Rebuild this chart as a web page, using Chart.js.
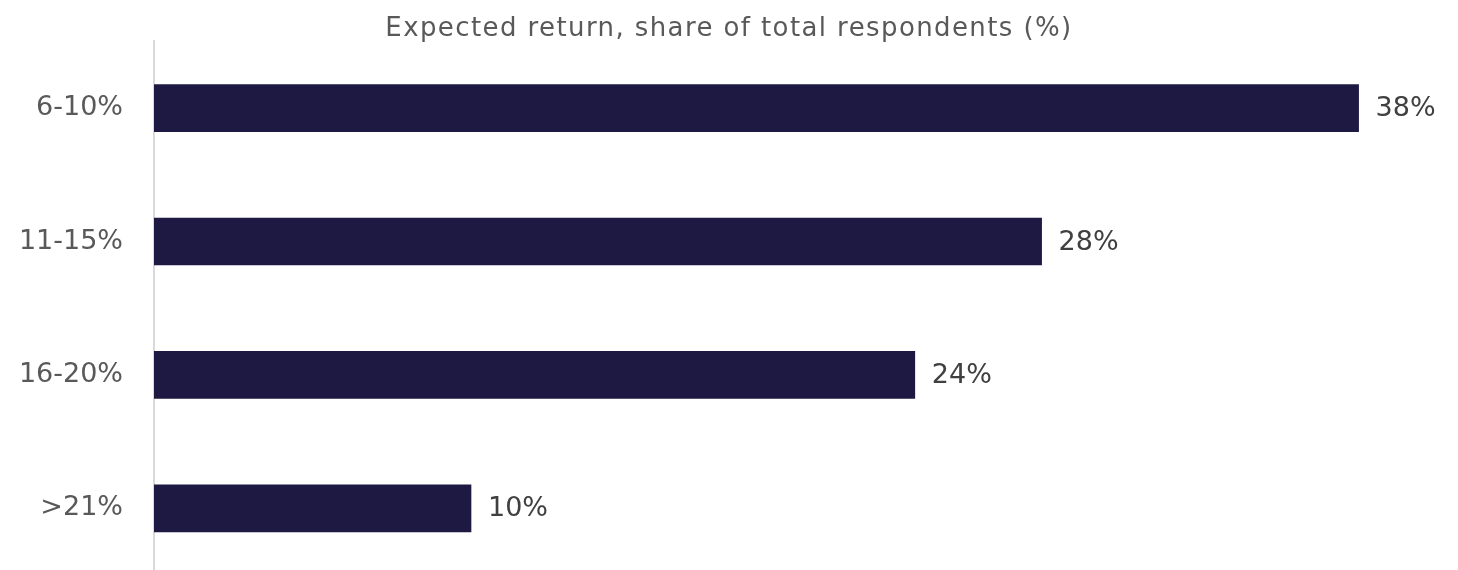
<!DOCTYPE html>
<html>
<head>
<meta charset="utf-8">
<script src="https://cdn.jsdelivr.net/npm/chart.js@4/dist/chart.umd.min.js"></script>
<style>
  html, body { margin: 0; padding: 0; background: #ffffff; overflow: hidden; }
  #wrap { width: 1458px; height: 575px; position: relative; }
</style>
</head>
<body>
<div id="wrap"><canvas id="c" width="1458" height="575"></canvas></div>
<script>
const titleText = "Expected return, share of total respondents (%)";
const categories = ["6-10%", "11-15%", "16-20%", ">21%"];
const shares = [38, 28, 24, 10];
const valueLabels = ["38%", "28%", "24%", "10%"];

const FONT = "'DejaVu Sans', sans-serif";

const valueLabelPlugin = {
  id: 'valueLabels',
  afterDatasetsDraw(chart) {
    const ctx = chart.ctx;
    const meta = chart.getDatasetMeta(0);
    ctx.save();
    ctx.font = "27px " + FONT;
    ctx.fillStyle = "#404040";
    ctx.textAlign = "left";
    ctx.textBaseline = "middle";
    meta.data.forEach((bar, i) => {
      ctx.fillText(valueLabels[i], bar.x + 17, bar.y + 1);
    });
    ctx.restore();
  }
};

const spacedTitlePlugin = {
  id: 'spacedTitle',
  afterDraw(chart) {
    const ctx = chart.ctx;
    ctx.save();
    ctx.font = "26px " + FONT;
    ctx.fillStyle = "#595959";
    ctx.textAlign = "center";
    ctx.textBaseline = "alphabetic";
    if ('letterSpacing' in ctx) ctx.letterSpacing = "1.4px";
    ctx.fillText(titleText, chart.width / 2, 36);
    ctx.restore();
  }
};

new Chart(document.getElementById('c'), {
  type: 'bar',
  data: {
    labels: categories,
    datasets: [{
      data: shares,
      backgroundColor: '#1e1942',
      borderWidth: 0,
      barThickness: 47
    }]
  },
  options: {
    indexAxis: 'y',
    responsive: false,
    animation: false,
    layout: { padding: { left: 0, right: 36, top: 41.4, bottom: 0 } },
    plugins: {
      legend: { display: false },
      tooltip: { enabled: false },
      title: { display: false }
    },
    scales: {
      x: {
        display: false,
        min: 0,
        max: 40
      },
      y: {
        afterFit(scale) {
          scale.width = 154;
          scale.paddingTop = 0;
          scale.paddingBottom = 0;
        },
        grid: { display: false, drawTicks: false },
        border: { display: true, color: '#d9d9d9', width: 2 },
        ticks: {
          color: '#595959',
          font: { family: FONT, size: 27 },
          padding: 31
        }
      }
    }
  },
  plugins: [valueLabelPlugin, spacedTitlePlugin]
});
</script>
</body>
</html>
